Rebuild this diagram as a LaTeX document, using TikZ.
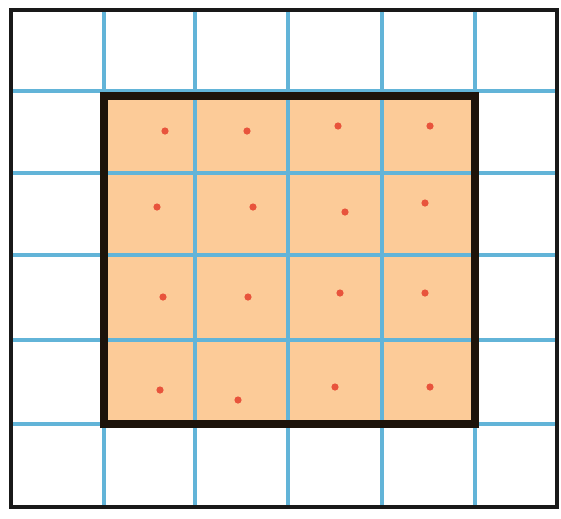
\documentclass[tikz,border=0pt]{standalone}
\usepackage{xcolor}
\definecolor{gridblue}{HTML}{62B4D8}
\definecolor{cellfill}{HTML}{FCCB98}
\definecolor{dotred}{HTML}{E8543C}
\tikzset{
  gridline/.style={gridblue, line width=2.8pt},
  outerframe/.style={black!90, line width=2.6pt},
  innerframe/.style={black!85!brown, line width=4.4pt},
  sample/.style={dotred, fill=dotred}
}
\begin{document}
\begin{tikzpicture}[x=0.02cm, y=-0.02cm]
\useasboundingbox (0,0) rectangle (561,518);

%Shaded region

\fill [cellfill] (104,96) rectangle (475,424);

%Grid lines

\foreach \gx in {104,195,288,382,475}
  \draw [gridline] (\gx,11) -- (\gx,507);
\foreach \gy in {91,173,255,340,424}
  \draw [gridline] (11,\gy) -- (557,\gy);

%Frames

\draw [innerframe] (104,96) rectangle (475,424);
\draw [outerframe] (11,10) rectangle (557,507);

%Sample points

\foreach \px/\py in {165/131, 247/131, 338/126, 430/126,
                     157/207, 253/207, 345/212, 425/203,
                     163/297, 248/297, 340/293, 425/293,
                     160/390, 238/400, 335/387, 430/387}
  \fill [sample] (\px,\py) circle (3.6);

\end{tikzpicture}
\end{document}
